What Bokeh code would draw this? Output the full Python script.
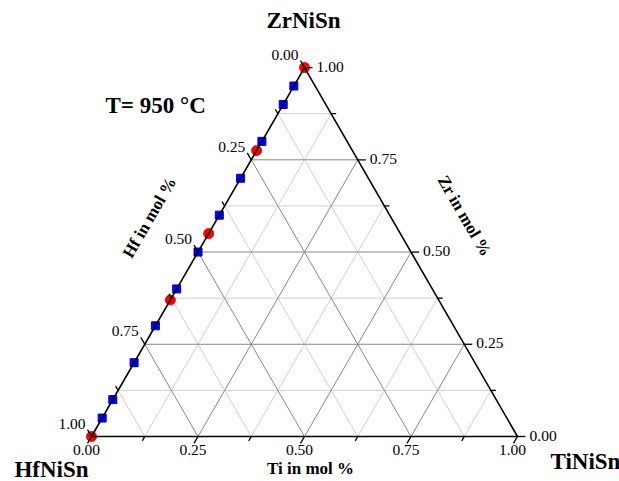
import numpy as np
from bokeh.plotting import figure
from bokeh.models import Range1d
from bokeh.core.properties import value
from bokeh.embed import file_html
from bokeh.resources import INLINE

# ---------------- data (ternary compositions, Ti and Zr fractions) ----------------
red_ti = [0.0, 0.0, 0.0, 0.0, 0.0]
red_zr = [0.00, 0.37, 0.55, 0.775, 1.00]
blue_ti = [0.0] * 11
blue_zr = [0.05, 0.10, 0.20, 0.30, 0.40, 0.50, 0.60, 0.70, 0.80, 0.90, 0.95]

major_ticks = [0.0, 0.25, 0.50, 0.75, 1.0]
major_labels = ["0.00", "0.25", "0.50", "0.75", "1.00"]
minor_ticks = [0.125, 0.375, 0.625, 0.875]
grid_major = [0.25, 0.50, 0.75]
grid_minor = [0.125, 0.375, 0.625, 0.875]

vertex_names = ["HfNiSn", "TiNiSn", "ZrNiSn"]
axis_titles = ["Ti in mol %", "Zr in mol %", "Hf in mol %"]
temperature = "T= 950 °C"

# ---------------- helpers ----------------
S = np.sqrt(3) / 2
PX = 426.0  # pixels per unit side


def tern(ti, zr):
    ti = np.asarray(ti, float)
    zr = np.asarray(zr, float)
    return ti + zr / 2, zr * S


W, H = 619, 481
x0_c, y0_c = 91, 436  # canvas position of HfNiSn vertex
p = figure(width=W, height=H, output_backend="svg", toolbar_location=None,
           x_range=Range1d(-x0_c / PX, (W - x0_c) / PX),
           y_range=Range1d(-(H - y0_c) / PX, y0_c / PX),
           min_border=0, outline_line_color=None)
p.axis.visible = False
p.grid.visible = False
p.background_fill_color = "white"
p.border_fill_color = "white"

FONT = value("Liberation Serif")

# ---------------- grid ----------------
def grid_lines(vals):
    xs, ys = [], []
    for g in vals:
        for a, b in [((0, g), (1 - g, g)),          # constant Zr
                     ((g, 0), (g, 1 - g)),          # constant Ti
                     ((1 - g, 0), (0, 1 - g))]:     # constant Hf
            xa, ya = tern(a[0], a[1])
            xb, yb = tern(b[0], b[1])
            xs.append([float(xa), float(xb)])
            ys.append([float(ya), float(yb)])
    return xs, ys

gx, gy = grid_lines(grid_minor)
p.multi_line(gx, gy, line_color="#d0d0d0", line_width=1)
gx, gy = grid_lines(grid_major)
p.multi_line(gx, gy, line_color="#888888", line_width=1)

# ---------------- data points ----------------
rx, ry = tern(red_ti, red_zr)
p.scatter(rx, ry, marker="circle", size=10, fill_color="#ff0000", line_color="#ff0000")
bx, by = tern(blue_ti, blue_zr)
p.scatter(bx, by, marker="square", size=8, fill_color="#0000ff", line_color="#0000cc")

# ---------------- triangle edges ----------------
ex, ey = tern([0, 1, 0, 0], [0, 0, 1, 0])
p.line(ex, ey, line_color="black", line_width=1.6)

# ---------------- ticks ----------------
def axis_ticks(vals, length, kind):
    xs, ys, ends = [], [], []
    for t in vals:
        if kind == "ti":
            px, py = tern(t, 0); d = (-0.5, -S)
        elif kind == "zr":
            px, py = tern(1 - t, t); d = (1.0, 0.0)
        else:  # hf
            px, py = tern(0, 1 - t); d = (-0.5, S)
        qx, qy = px + d[0] * length / PX, py + d[1] * length / PX
        xs.append([float(px), float(qx)])
        ys.append([float(py), float(qy)])
        ends.append((float(qx), float(qy)))
    return xs, ys, ends

tick_ends = {}
for kind in ["ti", "zr", "hf"]:
    xs, ys, ends = axis_ticks(major_ticks, 8, kind)
    p.multi_line(xs, ys, line_color="black", line_width=1.3)
    tick_ends[kind] = ends
    xs, ys, _ = axis_ticks(minor_ticks, 5, kind)
    p.multi_line(xs, ys, line_color="black", line_width=1.3)

tick_font = "15.5px"
# bottom (Ti)
p.text([e[0] for e in tick_ends["ti"]], [e[1] for e in tick_ends["ti"]], text=major_labels,
       text_font=FONT, text_font_size=tick_font, text_align="center", text_baseline="top",
       x_offset=-1, y_offset=2, text_color="black")
# right (Zr)
p.text([e[0] for e in tick_ends["zr"]], [e[1] for e in tick_ends["zr"]], text=major_labels,
       text_font=FONT, text_font_size=tick_font, text_align="left", text_baseline="middle",
       x_offset=4, y_offset=-1, text_color="black")
# left (Hf)
p.text([e[0] for e in tick_ends["hf"]], [e[1] for e in tick_ends["hf"]], text=major_labels,
       text_font=FONT, text_font_size=tick_font, text_align="right", text_baseline="alphabetic",
       x_offset=-2, y_offset=-6, text_color="black")

# ---------------- vertex names ----------------
vx, vy = tern([0, 1, 0], [0, 0, 1])
p.text(vx[:1], vy[:1], text=vertex_names[:1], text_font=FONT, text_font_size="23px",
       text_font_style="bold", text_align="center", text_baseline="alphabetic",
       x_offset=-40, y_offset=33)
p.text(vx[1:2], vy[1:2], text=vertex_names[1:2], text_font=FONT, text_font_size="23px",
       text_font_style="bold", text_align="left", text_baseline="alphabetic",
       x_offset=33, y_offset=25)
p.text(vx[2:], vy[2:], text=vertex_names[2:], text_font=FONT, text_font_size="23px",
       text_font_style="bold", text_align="center", text_baseline="alphabetic",
       x_offset=-1, y_offset=-47)

# temperature label
p.text(vx[:1], vy[:1], text=[temperature], text_font=FONT, text_font_size="23px",
       text_font_style="bold", text_align="left", text_baseline="alphabetic",
       x_offset=14, y_offset=-331)

# ---------------- axis titles ----------------
mx, my = tern([0.5], [0.0])
p.text(mx, my, text=[axis_titles[0]], text_font=FONT, text_font_size="17px",
       text_font_style="bold", text_align="center", text_baseline="alphabetic",
       x_offset=6, y_offset=32)
mx, my = tern([0.5], [0.5])
p.text(mx, my, text=[axis_titles[1]], text_font=FONT, text_font_size="17px",
       text_font_style="bold", text_align="center", text_baseline="middle",
       angle=-np.pi / 3, x_offset=53.5, y_offset=-36)
mx, my = tern([0.0], [0.5])
p.text(mx, my, text=[axis_titles[2]], text_font=FONT, text_font_size="17px",
       text_font_style="bold", text_align="center", text_baseline="middle",
       angle=np.pi / 3, x_offset=-48.5, y_offset=-34.5)

open("out.html", "w").write(file_html(p, INLINE))
